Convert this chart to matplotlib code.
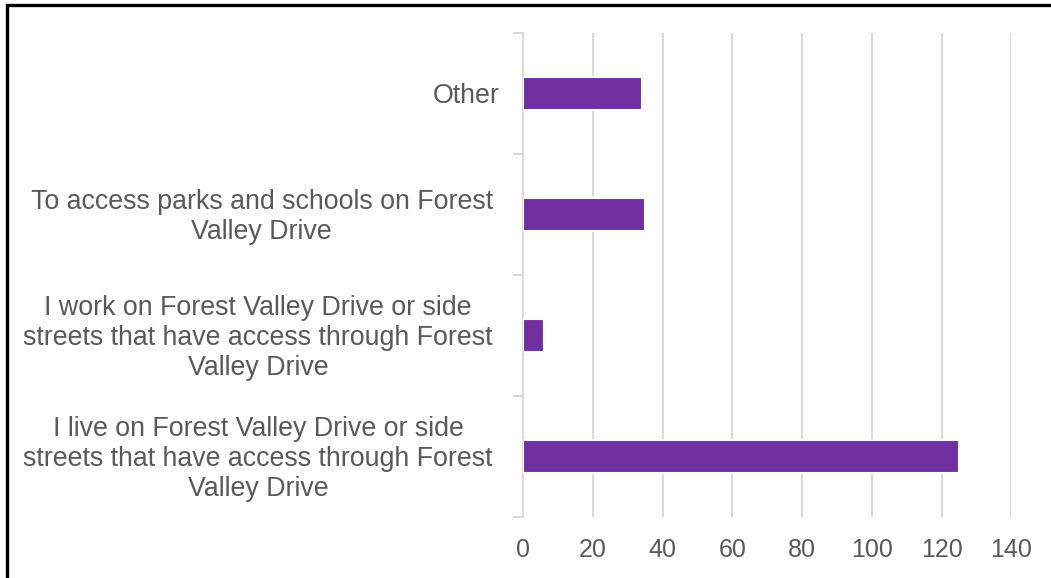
import matplotlib.pyplot as plt
from matplotlib.patches import Rectangle
from matplotlib.transforms import ScaledTranslation

plt.rcParams['font.family'] = ['Liberation Sans', 'DejaVu Sans']

categories = [
    "I live on Forest Valley Drive or side\nstreets that have access through Forest\nValley Drive",
    "I work on Forest Valley Drive or side\nstreets that have access through Forest\nValley Drive",
    "To access parks and schools on Forest\nValley Drive",
    "Other",
]
counts = [125, 6, 35, 34]
x_ticks = [0, 20, 40, 60, 80, 100, 120, 140]

W, H = 1051, 578
fig = plt.figure(figsize=(W / 100, H / 100), dpi=100)
ax = fig.add_axes([523.3 / W, 1 - 517 / H, (1011.3 - 523.3) / W, (517 - 33) / H])

bar_color = '#7030a0'
text_color = '#595959'
grid_color = '#d9d9d9'

ypos = list(range(len(categories)))
ax.barh(ypos, counts, height=0.28, color=bar_color, edgecolor='white',
        linewidth=1.5, zorder=3)

ax.set_xlim(0, 140)
ax.set_ylim(-0.5, len(categories) - 0.5)
ax.set_xticks(x_ticks)
ax.set_xticklabels([str(t) for t in x_ticks])
ax.xaxis.grid(True, color=grid_color, linewidth=1.5, zorder=0)
ax.set_axisbelow(True)

# category labels centred on each band, boundary ticks between bands
ax.set_yticks(ypos)
ylabels = ax.set_yticklabels(categories, ha='right', va='center',
                             multialignment='center', linespacing=1.2)
ax.set_yticks([y - 0.5 for y in ypos] + [len(categories) - 0.5], minor=True)
ax.tick_params(axis='y', which='major', length=0, pad=22, labelsize=19.3,
               labelcolor=text_color)
ax.tick_params(axis='y', which='minor', length=7, width=1.5, color=grid_color)
ax.tick_params(axis='x', length=0, pad=15, labelsize=18, labelcolor=text_color)

# nudge labels slightly down; the single-line label sits a bit further right
for i, lab in enumerate(ylabels):
    dx = 7 / 100 if i == len(ylabels) - 1 else 0
    lab.set_transform(lab.get_transform() +
                      ScaledTranslation(dx, -2.5 / 100, fig.dpi_scale_trans))

for side in ('top', 'right', 'bottom'):
    ax.spines[side].set_visible(False)
ax.spines['left'].set_color(grid_color)
ax.spines['left'].set_linewidth(1.5)

# outer frame around the chart area
fig.patches.append(Rectangle((6.5 / W, -0.1), 1.2, 1.1 - 5.5 / H,
                             transform=fig.transFigure, fill=False,
                             edgecolor='black', linewidth=2.4, zorder=10))

fig.savefig('out.png', dpi=100)
